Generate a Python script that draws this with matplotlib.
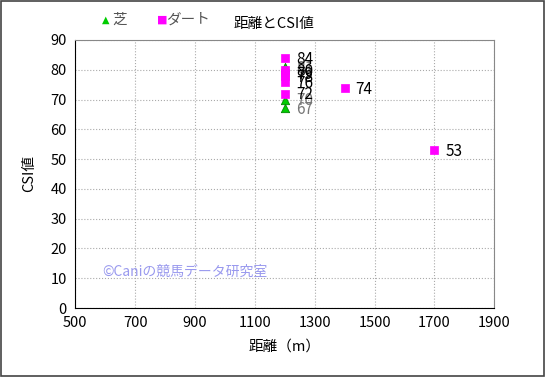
import matplotlib
matplotlib.use("Agg")
import matplotlib.pyplot as plt

plt.rcParams['font.family'] = ['Noto Sans CJK JP', 'DejaVu Sans']

# turf (芝)
turf_dist = [1200, 1200, 1200]
turf_csi = [81, 70, 67]
# dirt (ダート)
dirt_dist = [1200, 1200, 1200, 1200, 1200, 1200, 1400, 1700]
dirt_csi = [84, 80, 79, 78, 76, 72, 74, 53]

x_ticks = [500, 700, 900, 1100, 1300, 1500, 1700, 1900]
y_ticks = [0, 10, 20, 30, 40, 50, 60, 70, 80, 90]

fig = plt.figure(figsize=(5.45, 3.77), dpi=100)
ax = fig.add_axes([0.138, 0.183, 0.769, 0.711])

ax.scatter(turf_dist, turf_csi, marker='^', s=36, color='#00cc00',
           edgecolor='#008800', linewidth=0.6, zorder=3)
ax.scatter(dirt_dist, dirt_csi, marker='s', s=28, color='#ff00ff',
           edgecolor='#ff00ff', linewidth=0.5, zorder=3)

for x, y in zip(turf_dist, turf_csi):
  ax.annotate(str(round(y)), (x, y), xytext=(8, -1), textcoords='offset points',
              va='center', ha='left', fontsize=11, color='#777777', zorder=2)
for x, y in zip(dirt_dist, dirt_csi):
  ax.annotate(str(round(y)), (x, y), xytext=(8, -1), textcoords='offset points',
              va='center', ha='left', fontsize=11, color='black', zorder=4)

ax.set_xlim(500, 1900)
ax.set_ylim(0, 90)
ax.set_xticks(x_ticks)
ax.set_yticks(y_ticks)
ax.tick_params(labelsize=10.5, length=0, pad=6)
ax.grid(True, color='#aaaaaa', linestyle=':', linewidth=0.8)
ax.set_axisbelow(True)

for side in ['top', 'right']:
  ax.spines[side].set_color('#888888')
for side in ['left', 'bottom']:
  ax.spines[side].set_color('black')

ax.set_xlabel('距離（m）', fontsize=10.5, labelpad=7)
ax.set_ylabel('CSI値', fontsize=10.5, labelpad=10)

fig.text(0.503, 0.936, '距離とCSI値', ha='center', va='center', fontsize=10.5)
fig.text(0.188, 0.948, '▲', color='#00cc00', ha='left', va='center', fontsize=7,
         family=['DejaVu Sans'])
fig.text(0.206, 0.948, '芝', color='#555555', ha='left', va='center', fontsize=10.5)
fig.text(0.288, 0.948, '■', color='#ff00ff', ha='left', va='center', fontsize=8,
         family=['DejaVu Sans'])
fig.text(0.304, 0.948, 'ダート', color='#555555', ha='left', va='center', fontsize=10.5)

ax.text(0.064, 0.134, '©Caniの競馬データ研究室', transform=ax.transAxes,
        color='#9999ee', fontsize=10, ha='left', va='center')

fig.patches.append(plt.Rectangle((0.002, 0.003), 0.996, 0.994, transform=fig.transFigure,
                                 fill=False, edgecolor='#444444', linewidth=1.2))

fig.savefig('out.png', dpi=100)
